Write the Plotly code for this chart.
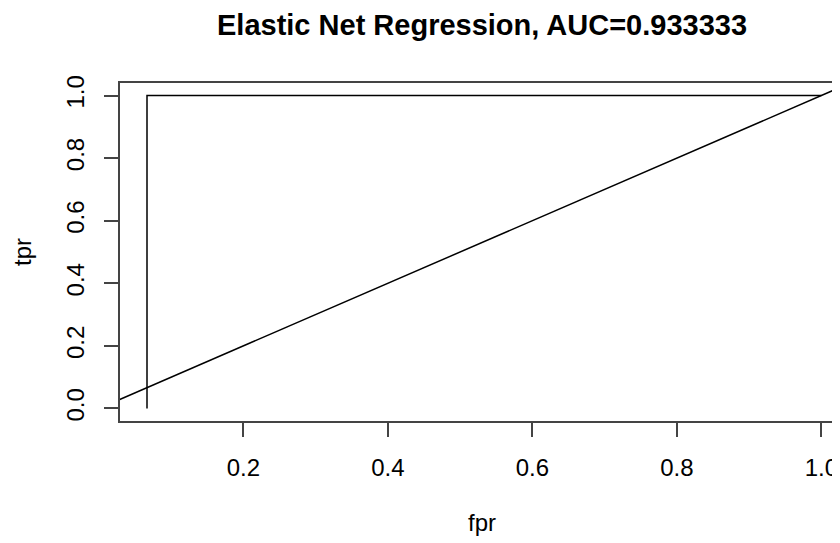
import plotly.graph_objects as go

# ROC curve data
fpr = [0.0666667, 0.0666667, 1.0]
tpr = [0.0, 1.0, 1.0]
# reference diagonal (abline a=0, b=1)
diag_x = [-0.1, 1.1]
diag_y = [-0.1, 1.1]

auc = 0.933333
title_text = "Elastic Net Regression, AUC=%.6f" % auc

x_ticks = [0.0, 0.2, 0.4, 0.6, 0.8, 1.0]
y_ticks = [0.0, 0.2, 0.4, 0.6, 0.8, 1.0]

FONT = "Liberation Sans, Arial, Helvetica, sans-serif"

fig = go.Figure()
fig.add_trace(go.Scatter(x=fpr, y=tpr, mode="lines",
                         line=dict(color="black", width=1.5), showlegend=False))
fig.add_trace(go.Scatter(x=diag_x, y=diag_y, mode="lines",
                         line=dict(color="black", width=1.5), showlegend=False))

# the page body adds an 8px offset, so the figure is 832x535
fig.update_layout(
    template="none",
    width=832, height=535,
    margin=dict(l=112, r=0, t=75, b=122, pad=0),
    paper_bgcolor="white", plot_bgcolor="white",
    font=dict(family=FONT, size=24, color="black"),
    showlegend=False,
)
fig.update_xaxes(
    automargin=False,
    range=[0.0293, 1.0258],
    tickvals=x_ticks, ticktext=["%.1f" % v for v in x_ticks],
    showgrid=False, zeroline=False,
    showline=True, mirror=True, linecolor="#444", linewidth=2,
    ticks="outside", ticklen=14, tickwidth=1.5, tickcolor="#444",
    ticklabelstandoff=10,
    tickfont=dict(family=FONT, size=24, color="black"),
)
fig.update_yaxes(
    automargin=False,
    range=[-0.04, 1.04],
    tickvals=y_ticks, ticktext=["%.1f" % v for v in y_ticks],
    showgrid=False, zeroline=False,
    showline=True, mirror=False, linecolor="#444", linewidth=2,
    ticks="outside", ticklen=14, tickwidth=1.5, tickcolor="#444",
    tickangle=-90, ticklabelstandoff=10,
    tickfont=dict(family=FONT, size=24, color="black"),
)

fig.add_annotation(text="<b>" + title_text + "</b>", xref="paper", yref="paper",
                   x=0.5028, y=1.1716, showarrow=False, xanchor="center", yanchor="middle",
                   font=dict(family=FONT, size=29, color="black"))
fig.add_annotation(text="fpr", xref="paper", yref="paper",
                   x=0.5028, y=-0.299, showarrow=False, xanchor="center", yanchor="middle",
                   font=dict(family=FONT, size=24, color="black"))
fig.add_annotation(text="tpr", xref="paper", yref="paper",
                   x=-0.1361, y=0.5, showarrow=False, xanchor="center", yanchor="middle",
                   textangle=-90,
                   font=dict(family=FONT, size=24, color="black"))

fig.write_html("out.html")
